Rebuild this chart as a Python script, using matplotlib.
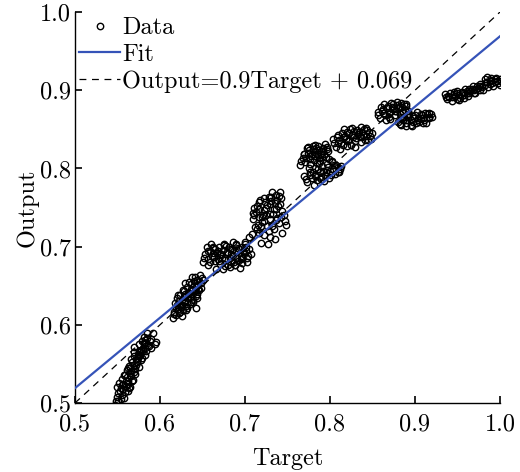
import matplotlib
matplotlib.use("Agg")
import matplotlib.pyplot as plt
import numpy as np

# ---- data (Target, Output) by cluster ----
xA = [0.547,0.549,0.551,0.553,0.550,0.555,0.557,0.552,0.558,0.560,0.556,0.562,0.559,0.563,0.561,0.565,0.557,0.566,0.564,0.568,0.562,0.570,0.567,0.565,0.572,0.569,0.571,0.574,0.566,0.575,0.573,0.577,0.570,0.578,0.576,0.580,0.574,0.582,0.579,0.584,0.581,0.586,0.583,0.588,0.590,0.592,0.594,0.596,0.578,0.585,
      0.548,0.551,0.554,0.556,0.559,0.561,0.563,0.565,0.567,0.569,0.571,0.573,0.575,0.577,0.579,0.581,0.583,0.585,0.587,0.589,0.554,0.560,0.566,0.572,0.576,0.580,0.558,0.564,0.570,0.582]
yA = [0.497,0.508,0.503,0.515,0.520,0.510,0.518,0.526,0.507,0.522,0.531,0.515,0.536,0.528,0.542,0.521,0.525,0.535,0.548,0.530,0.545,0.540,0.553,0.538,0.549,0.560,0.544,0.558,0.556,0.567,0.552,0.561,0.572,0.555,0.575,0.566,0.563,0.571,0.580,0.566,0.585,0.574,0.577,0.580,0.570,0.589,0.576,0.578,0.568,0.589,
      0.503,0.513,0.505,0.523,0.514,0.533,0.524,0.545,0.528,0.549,0.537,0.553,0.546,0.565,0.558,0.576,0.562,0.583,0.573,0.582,0.519,0.528,0.541,0.557,0.560,0.571,0.536,0.519,0.565,0.581]
xB = [0.615,0.617,0.619,0.618,0.621,0.620,0.623,0.622,0.625,0.624,0.627,0.626,0.629,0.628,0.631,0.630,0.633,0.632,0.635,0.634,0.637,0.636,0.639,0.638,0.641,0.640,0.643,0.642,0.645,0.644,0.647,0.646,0.649,0.648,0.651,0.626,0.632,0.638,0.644,0.629,
      0.616,0.620,0.623,0.626,0.628,0.630,0.633,0.635,0.637,0.640,0.642,0.645,0.648,0.619,0.624,0.629,0.634,0.639,0.644,0.621,0.627,0.636,0.641,0.631,0.646]
yB = [0.609,0.617,0.612,0.628,0.620,0.634,0.615,0.627,0.623,0.638,0.619,0.632,0.629,0.643,0.624,0.637,0.634,0.648,0.627,0.641,0.639,0.652,0.632,0.645,0.643,0.656,0.622,0.649,0.651,0.640,0.664,0.656,0.660,0.647,0.658,0.611,0.621,0.661,0.634,0.653,
      0.614,0.625,0.631,0.626,0.636,0.630,0.641,0.636,0.646,0.650,0.637,0.646,0.653,0.621,0.617,0.640,0.655,0.629,0.658,0.638,0.645,0.629,0.661,0.619,0.644]
xC = [0.651,0.653,0.655,0.657,0.659,0.656,0.661,0.663,0.660,0.665,0.667,0.664,0.669,0.671,0.668,0.673,0.675,0.672,0.677,0.679,0.676,0.681,0.683,0.680,0.685,0.687,0.684,0.689,0.691,0.688,0.693,0.695,0.692,0.697,0.699,0.696,0.701,0.703,0.700,0.705,0.707,0.686,0.674,0.694,0.666,
      0.652,0.656,0.659,0.662,0.665,0.668,0.671,0.674,0.677,0.680,0.683,0.686,0.689,0.692,0.695,0.698,0.701,0.704,0.670,0.678,0.684,0.690,0.697,0.662,0.682,0.688,0.702,0.675]
yC = [0.680,0.690,0.700,0.684,0.694,0.676,0.688,0.698,0.703,0.682,0.692,0.687,0.699,0.678,0.695,0.686,0.702,0.690,0.675,0.693,0.683,0.700,0.686,0.677,0.696,0.681,0.691,0.704,0.685,0.676,0.697,0.688,0.682,0.700,0.690,0.679,0.694,0.685,0.704,0.697,0.690,0.706,0.671,0.673,0.672,
      0.686,0.695,0.680,0.692,0.697,0.684,0.690,0.696,0.686,0.692,0.697,0.689,0.693,0.698,0.684,0.694,0.700,0.688,0.682,0.701,0.680,0.702,0.686,0.700,0.674,0.676,0.680,0.704]
xD = [0.700,0.705,0.709,0.712,0.710,0.714,0.716,0.713,0.718,0.720,0.717,0.722,0.724,0.721,0.726,0.728,0.725,0.730,0.732,0.729,0.734,0.736,0.733,0.738,0.740,0.737,0.742,0.744,0.741,0.746,0.748,0.735,0.727,0.719,0.731,0.739,0.723,0.715,0.711,0.743,
      0.708,0.711,0.714,0.717,0.720,0.723,0.726,0.729,0.732,0.735,0.738,0.741,0.744,0.747,0.716,0.722,0.728,0.734,0.740,0.719,0.725,0.731,0.737,0.730]
yD = [0.706,0.712,0.743,0.725,0.735,0.752,0.718,0.744,0.760,0.731,0.748,0.715,0.757,0.740,0.726,0.764,0.749,0.735,0.770,0.755,0.722,0.766,0.742,0.760,0.730,0.748,0.738,0.718,0.770,0.740,0.728,0.710,0.704,0.705,0.758,0.752,0.733,0.728,0.750,0.762,
      0.716,0.740,0.722,0.757,0.738,0.747,0.753,0.742,0.727,0.756,0.737,0.755,0.745,0.733,0.738,0.762,0.720,0.748,0.765,0.726,0.740,0.764,0.734,0.712]
xE = [0.765,0.768,0.771,0.774,0.777,0.780,0.783,0.786,0.789,0.792,0.795,0.798,0.770,0.776,0.782,0.788,0.794,0.779,0.785,0.791,0.773,0.797,0.787,0.781,
      0.766,0.769,0.772,0.775,0.778,0.781,0.784,0.787,0.790,0.793,0.796,0.799,0.774,0.780,0.786,0.792]
yE = [0.804,0.813,0.808,0.820,0.812,0.825,0.816,0.829,0.819,0.826,0.815,0.822,0.818,0.806,0.830,0.810,0.831,0.818,0.807,0.815,0.826,0.828,0.823,0.811,
      0.810,0.818,0.814,0.824,0.816,0.821,0.826,0.814,0.822,0.819,0.825,0.812,0.828,0.829,0.819,0.822]
xF = [0.770,0.773,0.776,0.779,0.782,0.785,0.788,0.791,0.794,0.797,0.800,0.803,0.806,0.809,0.812,0.775,0.781,0.787,0.793,0.799,0.805,0.811,0.784,0.796,
      0.772,0.777,0.780,0.783,0.786,0.789,0.792,0.795,0.798,0.801,0.804,0.807,0.810,0.813,0.790,0.802]
yF = [0.790,0.783,0.796,0.788,0.800,0.785,0.795,0.803,0.791,0.806,0.797,0.808,0.793,0.802,0.799,0.801,0.779,0.807,0.784,0.788,0.804,0.796,0.791,0.798,
      0.786,0.792,0.795,0.790,0.799,0.787,0.797,0.795,0.802,0.792,0.799,0.805,0.796,0.803,0.789,0.810]
xG = [0.804,0.807,0.810,0.813,0.816,0.819,0.822,0.825,0.828,0.831,0.834,0.837,0.840,0.843,0.846,0.849,0.812,0.818,0.824,0.830,0.836,0.842,0.848,0.821,0.833,0.809,0.827,0.839,
      0.805,0.808,0.811,0.814,0.817,0.820,0.823,0.826,0.829,0.832,0.835,0.838,0.841,0.844,0.847,0.815,0.826,0.836,0.845,0.820]
yG = [0.838,0.828,0.843,0.833,0.850,0.838,0.845,0.830,0.848,0.839,0.846,0.834,0.850,0.841,0.847,0.845,0.825,0.842,0.851,0.828,0.840,0.852,0.838,0.835,0.844,0.832,0.840,0.843,
      0.833,0.840,0.836,0.845,0.840,0.847,0.838,0.843,0.835,0.849,0.842,0.847,0.837,0.849,0.841,0.830,0.852,0.853,0.836,0.829]
xH = [0.856,0.859,0.862,0.865,0.868,0.871,0.874,0.877,0.880,0.883,0.886,0.889,0.892,0.860,0.866,0.872,0.878,0.884,0.890,0.869,0.875,0.881,
      0.857,0.861,0.864,0.867,0.870,0.873,0.876,0.879,0.882,0.885,0.888,0.891,0.863,0.871,0.879,0.887]
yH = [0.872,0.864,0.876,0.868,0.880,0.872,0.882,0.868,0.877,0.884,0.872,0.880,0.874,0.878,0.862,0.884,0.873,0.866,0.883,0.870,0.877,0.879,
      0.868,0.874,0.871,0.877,0.866,0.878,0.874,0.881,0.870,0.878,0.875,0.868,0.882,0.863,0.885,0.883]
xI = [0.880,0.884,0.887,0.890,0.893,0.896,0.899,0.902,0.905,0.908,0.911,0.914,0.917,0.920,0.886,0.892,0.898,0.904,0.910,0.916,0.895,0.907,
      0.882,0.885,0.889,0.892,0.895,0.898,0.901,0.904,0.907,0.910,0.913,0.916,0.919,0.889,0.900,0.912]
yI = [0.860,0.855,0.866,0.858,0.870,0.854,0.864,0.872,0.859,0.868,0.862,0.870,0.864,0.866,0.862,0.866,0.860,0.865,0.858,0.871,0.856,0.869,
      0.857,0.864,0.862,0.869,0.862,0.867,0.858,0.862,0.865,0.865,0.858,0.866,0.870,0.854,0.868,0.871]
xJ = [0.935,0.938,0.941,0.944,0.947,0.950,0.953,0.956,0.959,0.962,0.965,0.968,0.971,0.974,0.977,0.980,0.983,0.986,0.989,0.992,0.995,0.998,1.001,0.940,0.946,0.952,0.958,0.964,0.970,0.976,0.982,0.988,0.994,1.000,0.961,0.985,
      0.936,0.939,0.943,0.946,0.949,0.952,0.955,0.958,0.961,0.964,0.967,0.970,0.973,0.976,0.979,0.982,0.985,0.988,0.991,0.994,0.997,1.000,0.950,0.972,0.990]
yJ = [0.895,0.889,0.897,0.886,0.893,0.899,0.890,0.896,0.901,0.893,0.899,0.905,0.897,0.903,0.908,0.900,0.911,0.904,0.913,0.906,0.916,0.909,0.912,0.892,0.898,0.887,0.894,0.902,0.900,0.906,0.914,0.908,0.911,0.907,0.897,0.917,
      0.891,0.893,0.891,0.895,0.889,0.894,0.898,0.890,0.899,0.896,0.902,0.896,0.906,0.900,0.904,0.907,0.910,0.912,0.909,0.914,0.912,0.915,0.896,0.901,0.916]

fit_slope = 0.9
fit_intercept = 0.069
x_ticks = [0.5, 0.6, 0.7, 0.8, 0.9, 1.0]
y_ticks = [0.5, 0.6, 0.7, 0.8, 0.9, 1.0]
legend_labels = ["Data", "Fit", "Output=0.9Target + 0.069"]

target = np.array(xA + xB + xC + xD + xE + xF + xG + xH + xI + xJ)
output = np.array(yA + yB + yC + yD + yE + yF + yG + yH + yI + yJ)

plt.rcParams['font.family'] = ['cmr10', 'DejaVu Serif']
plt.rcParams['mathtext.fontset'] = 'cm'
plt.rcParams['axes.formatter.use_mathtext'] = True

FS = 17.5
fig = plt.figure(figsize=(5.2, 4.72), dpi=100)
ax = fig.add_axes([0.144, 0.146, 0.8175, 0.8285])

ax.plot(target, output, 'o', ms=4.6, mfc='none', mec='black', mew=1.0,
        label=legend_labels[0], zorder=3)
xl = np.array([x_ticks[0], x_ticks[-1]])
ax.plot(xl, fit_slope * xl + fit_intercept, '-', color='#3553b8', lw=1.6,
        label=legend_labels[1], zorder=4)
ax.plot(xl, xl, '--', color='black', lw=0.9, dashes=(5.5, 4.5),
        label=legend_labels[2], zorder=4)

ax.set_xlim(0.5, 1.0)
ax.set_ylim(0.5, 1.0)
ax.set_xticks(x_ticks)
ax.set_yticks(y_ticks)
ax.set_xticklabels([f"{v:.1f}" for v in x_ticks])
ax.set_yticklabels([f"{v:.1f}" for v in y_ticks])
for s in ['top', 'right']:
    ax.spines[s].set_visible(False)
for s in ['left', 'bottom']:
    ax.spines[s].set_linewidth(1.0)
ax.tick_params(direction='in', length=5, width=1.2, labelsize=FS)
ax.tick_params(axis='x', pad=7.5)
ax.tick_params(axis='y', pad=3)
ax.set_xlabel("Target", fontsize=FS, labelpad=8.5)
ax.set_ylabel("Output", fontsize=FS, labelpad=0.5)

leg = ax.legend(loc='upper left', frameon=False, fontsize=FS, numpoints=1,
                handlelength=1.69, handletextpad=0.08, labelspacing=0.18,
                borderaxespad=0.0, borderpad=0.0, bbox_to_anchor=(0.01, 0.987))
fig.savefig("out.png", dpi=100)
